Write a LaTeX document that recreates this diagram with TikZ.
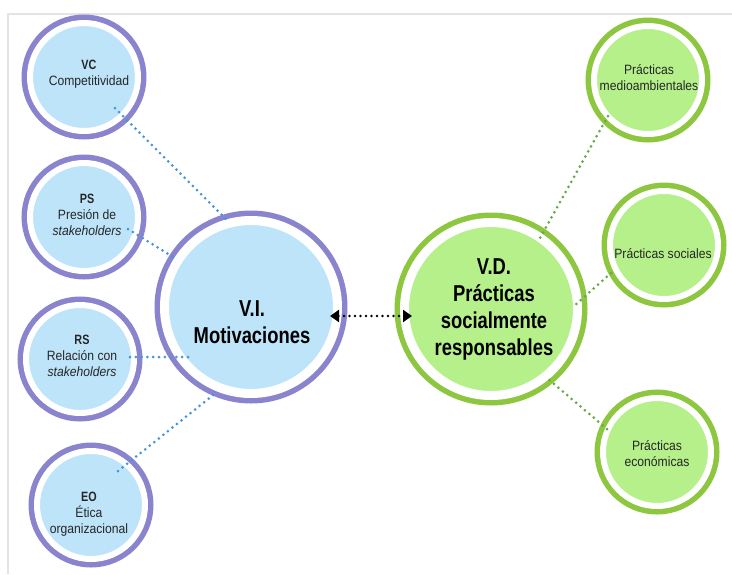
\documentclass[tikz,border=0pt]{standalone}
\usepackage{fontspec}
\setmainfont{Liberation Sans}[FakeStretch=0.9,BoldFeatures={FakeStretch=0.8}]
\usepackage{tikz}
\usetikzlibrary{calc,arrows.meta,positioning}

\definecolor{vifill}{RGB}{190,228,250}
\definecolor{viring}{RGB}{138,132,207}
\definecolor{vdfill}{RGB}{182,240,138}
\definecolor{vdring}{RGB}{141,198,63}
\definecolor{bluedot}{RGB}{70,150,216}
\definecolor{greendot}{RGB}{104,168,72}
\definecolor{frameline}{RGB}{228,228,228}

\begin{document}
\begin{tikzpicture}[x=1pt,y=-1pt]
	\tikzstyle{every node} = [inner sep=0pt, outer sep=0pt]
	\tikzstyle{smallblue} = [circle, minimum size=108pt, fill=vifill, draw=white, line width=6pt, preaction={draw=viring, line width=17pt}]
	\tikzstyle{smallgreen} = [circle, minimum size=108pt, fill=vdfill, draw=white, line width=6pt, preaction={draw=vdring, line width=17pt}]
	\tikzstyle{bigblue} = [circle, minimum size=173pt, fill=vifill, draw=white, line width=9pt, preaction={draw=viring, line width=20pt}]
	\tikzstyle{biggreen} = [circle, minimum size=173pt, fill=vdfill, draw=white, line width=9pt, preaction={draw=vdring, line width=20pt}]
	\tikzstyle{smalltxt} = [align=center, font=\fontsize{13.5}{16}\selectfont, text=black!85]
	\tikzstyle{bigtxt} = [align=center, font=\fontsize{23}{27}\selectfont\bfseries, text=black]
	\tikzstyle{bluelink} = [draw=bluedot, line width=3pt, line cap=round, dash pattern=on 0pt off 5.8pt]
	\tikzstyle{greenlink} = [draw=greendot, line width=3pt, line cap=round, dash pattern=on 0pt off 5.8pt]
	\tikzstyle{dotarrow} = [draw=black, line width=2.8pt, line cap=round, dash pattern=on 0pt off 5.5pt, {Triangle[length=9pt,width=12pt]}-{Triangle[length=9pt,width=12pt]}]
\useasboundingbox (0,0) rectangle (732,574);
\path[draw=frameline, line width=1.5pt] (8,574) -- (8,14) -- (732,14);
% left side
\node[smallblue] (vc) at (84, 77) {};
\node[smallblue] (ps) at (84, 217) {};
\node[smallblue] (rs) at (80, 359) {};
\node[smallblue] (eo) at (91, 505) {};
\node[bigblue] (vi) at (251, 307) {};
% right side
\node[biggreen] (vd) at (491, 309) {};
\node[smallgreen] (pm) at (648, 80) {};
\node[smallgreen] (psoc) at (664, 245) {};
\node[smallgreen] (pe) at (657, 452) {};
% texts
 \node[smalltxt] (tvc) at (89, 74) {\textbf{VC}\\Competitividad};
 \node[smalltxt] (tps) at (87, 215) {\textbf{PS}\\Presión de\\\textit{stakeholders}};
 \node[smalltxt] (trs) at (82, 356) {\textbf{RS}\\Relación con\\\textit{stakeholders}};
 \node[smalltxt] (teo) at (89, 514) {\textbf{EO}\\Ética\\organizacional};
 \node[bigtxt] (tvi) at (252, 322) {V.I.\\Motivaciones};
 \node[bigtxt] (tvd) at (494, 309) {V.D.\\Prácticas\\socialmente\\responsables};
 \node[smalltxt] (tpm) at (649, 78) {Prácticas\\medioambientales};
 \node[smalltxt] (tpsoc) at (663, 254) {Prácticas sociales};
 \node[smalltxt] (tpe) at (657, 454) {Prácticas\\económicas};
% links
	\path[bluelink] ($(vc)+(31,31)$) -- ($(vi)+(-22,-85)$);
	\path[bluelink] ($(ps)+(44,12)$) -- ($(vi)+(-78,-50)$);
	\path[bluelink] ($(rs)+(50,-2)$) -- ($(vi)+(-63,50)$);
	\path[bluelink] ($(eo)+(27,-34)$) -- ($(vi)+(-34,85)$);
	\path[greenlink] ($(pm)+(-40,36)$) -- ($(vd)+(49,-71)$);
	\path[greenlink] ($(psoc)+(-53,28)$) -- ($(vd)+(82,-2)$);
	\path[greenlink] ($(pe)+(-50,-23)$) -- ($(vd)+(56,69)$);
	\path[dotarrow] ($(vi)+(79,9)$) -- ($(vd)+(-79,7)$);
\end{tikzpicture}
\end{document}
